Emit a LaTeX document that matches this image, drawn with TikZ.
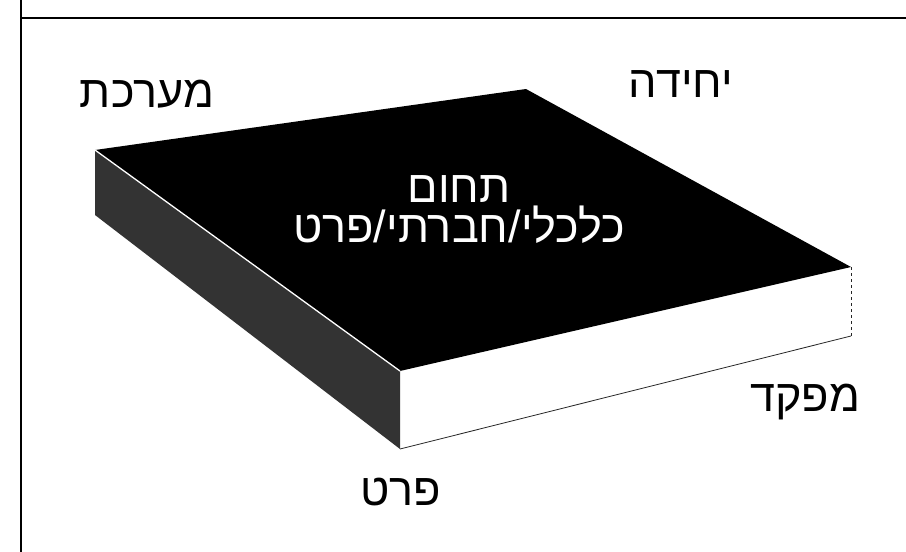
\documentclass[tikz,border=0pt]{standalone}
\usepackage{fontspec}
\TeXXeTstate=1
\newfontfamily\heb[Script=Hebrew]{Liberation Sans}
\begin{document}
\begin{tikzpicture}[x=1pt,y=-1pt,
  lbl/.style={font=\heb\fontsize{45}{40}\selectfont, inner sep=0pt, anchor=base},
  toplbl/.style={lbl, text=white, align=center},
  frame/.style={line width=2.2pt, black},
  edge/.style={line width=0.8pt, black!85}]
\useasboundingbox (0,0) rectangle (906,552);
\fill[white] (0,0) rectangle (906,552);
% frame lines
\coordinate (f0) at (21,0);
\coordinate (f1) at (21,552);
\coordinate (f2) at (21,18);
\coordinate (f3) at (906,18);
\draw[frame] (f0) -- (f1);
\draw[frame] (f2) -- (f3);
% box corners
\coordinate (A) at (95,150);
\coordinate (B) at (526,89);
\coordinate (C) at (851,267);
\coordinate (D) at (400,371);
\coordinate (Ab) at (95,215);
\coordinate (Cb) at (851,336);
\coordinate (Db) at (400,449);
% front face
\fill[white] (D) -- (C) -- (Cb) -- (Db) -- cycle;
\draw[edge] (Db) -- (Cb);
\draw[edge, dashed] (C) -- (Cb);
% left face
\fill[black!80] (A) -- (D) -- (Db) -- (Ab) -- cycle;
% top face
\fill[black] (A) -- (B) -- (C) -- (D) -- cycle;
\draw[white, line width=1.3pt] (A) -- (D);
% labels
\node[lbl] (maarechet) at (147,107) {\beginR מערכת\endR};
\node[lbl] (yehida) at (681,97) {\beginR יחידה\endR};
\node[toplbl] (tchum) at (459,242) {\beginR תחום\endR\\\beginR כלכלי/חברתי/פרט\endR};
\node[lbl] (mifkad) at (805,411) {\beginR מפקד\endR};
\node[lbl] (prat) at (401,505) {\beginR פרט\endR};
\end{tikzpicture}
\end{document}
